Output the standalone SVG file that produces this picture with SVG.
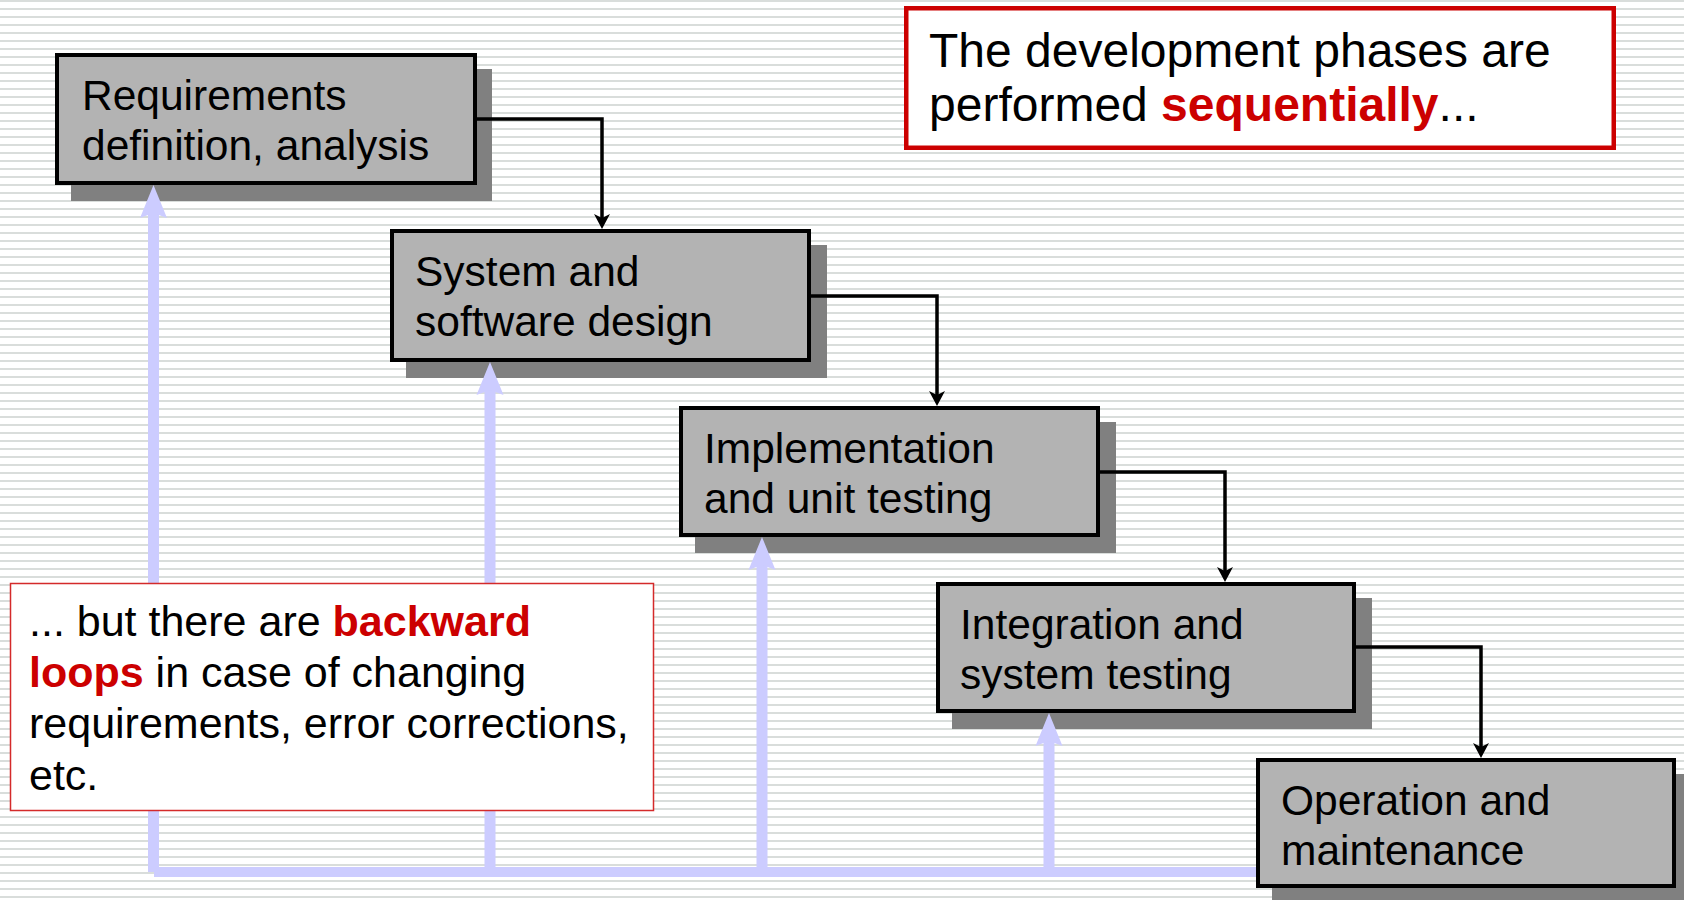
<svg xmlns="http://www.w3.org/2000/svg" width="1684" height="900" viewBox="0 0 1684 900">
  <defs>
    <pattern id="stripes" x="0" y="0" width="8" height="8" patternUnits="userSpaceOnUse">
      <rect width="8" height="8" fill="#ffffff"/>
      <rect width="8" height="2" fill="#d9dddb"/>
    </pattern>
    <marker id="blackArrow" markerUnits="userSpaceOnUse" viewBox="-12 -9 24 18" markerWidth="24" markerHeight="18" refX="0" refY="0" orient="auto">
      <path d="M6,0 L-9,-8 L-5,0 L-9,8 Z" fill="#000"/>
    </marker>
    <marker id="blueArrow" markerUnits="userSpaceOnUse" viewBox="-14 -16 40 32" markerWidth="40" markerHeight="32" refX="0" refY="0" orient="auto">
      <path d="M22,0 L-11,-13.5 L-6,0 L-11,13.5 Z" fill="#ccccff"/>
    </marker>
  </defs>
  <style>
    .shadow { fill: #808080; }
    .box { fill: #b3b3b3; stroke: #000; stroke-width: 4; }
    .label { font-family: "Liberation Sans", Arial, sans-serif; font-size: 42.5px; fill: #000; }
    .flow { fill: none; stroke: #000; stroke-width: 3.5; marker-end: url(#blackArrow); }
    .loop { fill: none; stroke: #ccccff; stroke-width: 11; marker-end: url(#blueArrow); }
    .loopbase { fill: none; stroke: #ccccff; stroke-width: 10; }
    .note { font-family: "Liberation Sans", Arial, sans-serif; fill: #000; }
    .hl { fill: #cc0000; font-weight: bold; }
  </style>

  <rect x="0" y="0" width="1684" height="900" fill="url(#stripes)"/>

  <g id="shadows">
    <rect class="shadow" x="71" y="69" width="421" height="132"/>
    <rect class="shadow" x="406" y="245" width="421" height="133"/>
    <rect class="shadow" x="695" y="422" width="421" height="131"/>
    <rect class="shadow" x="952" y="598" width="420" height="131"/>
    <rect class="shadow" x="1272" y="774" width="420" height="130"/>
  </g>

  <g id="connectors">
    <path class="flow" d="M477,119 H602 V223"/>
    <path class="flow" d="M811,296 H937 V400"/>
    <path class="flow" d="M1100,472 H1225 V576"/>
    <path class="flow" d="M1356,647 H1481 V752"/>
    <path class="loopbase" d="M154,872 H1258"/>
    <path class="loop" d="M153.5,872 V207"/>
    <path class="loop" d="M490,872 V384"/>
    <path class="loop" d="M762,872 V559"/>
    <path class="loop" d="M1049,872 V735"/>
  </g>

  <g id="node-requirements">
    <rect class="box" x="57" y="55" width="418" height="128"/>
    <text class="label" x="82" y="110">Requirements</text>
    <text class="label" x="82" y="160">definition, analysis</text>
  </g>
  <g id="node-design">
    <rect class="box" x="392" y="231" width="417" height="129"/>
    <text class="label" x="415" y="286">System and</text>
    <text class="label" x="415" y="336">software design</text>
  </g>
  <g id="node-implementation">
    <rect class="box" x="681" y="408" width="417" height="127"/>
    <text class="label" x="704" y="463">Implementation</text>
    <text class="label" x="704" y="513">and unit testing</text>
  </g>
  <g id="node-integration">
    <rect class="box" x="938" y="584" width="416" height="127"/>
    <text class="label" x="960" y="639">Integration and</text>
    <text class="label" x="960" y="689">system testing</text>
  </g>
  <g id="node-operation">
    <rect class="box" x="1258" y="760" width="416" height="126"/>
    <text class="label" x="1281" y="815">Operation and</text>
    <text class="label" x="1281" y="865">maintenance</text>
  </g>

  <g id="note-sequential">
    <rect x="906.25" y="8.25" width="707.5" height="139.5" fill="#ffffff" stroke="#cc0000" stroke-width="4.5"/>
    <text class="note" x="929" y="67" font-size="48">The development phases are</text>
    <text class="note" x="929" y="121" font-size="48">performed <tspan class="hl">sequentially</tspan>...</text>
  </g>

  <g id="note-loops">
    <rect x="10.5" y="583.5" width="643" height="227" fill="#ffffff" stroke="#d42a2a" stroke-width="1.5"/>
    <text class="note" x="29" y="636" font-size="43">... but there are <tspan class="hl">backward</tspan></text>
    <text class="note" x="29" y="687" font-size="43"><tspan class="hl">loops</tspan> in case of changing</text>
    <text class="note" x="29" y="738" font-size="43">requirements, error corrections,</text>
    <text class="note" x="29" y="790" font-size="43">etc.</text>
  </g>
</svg>
